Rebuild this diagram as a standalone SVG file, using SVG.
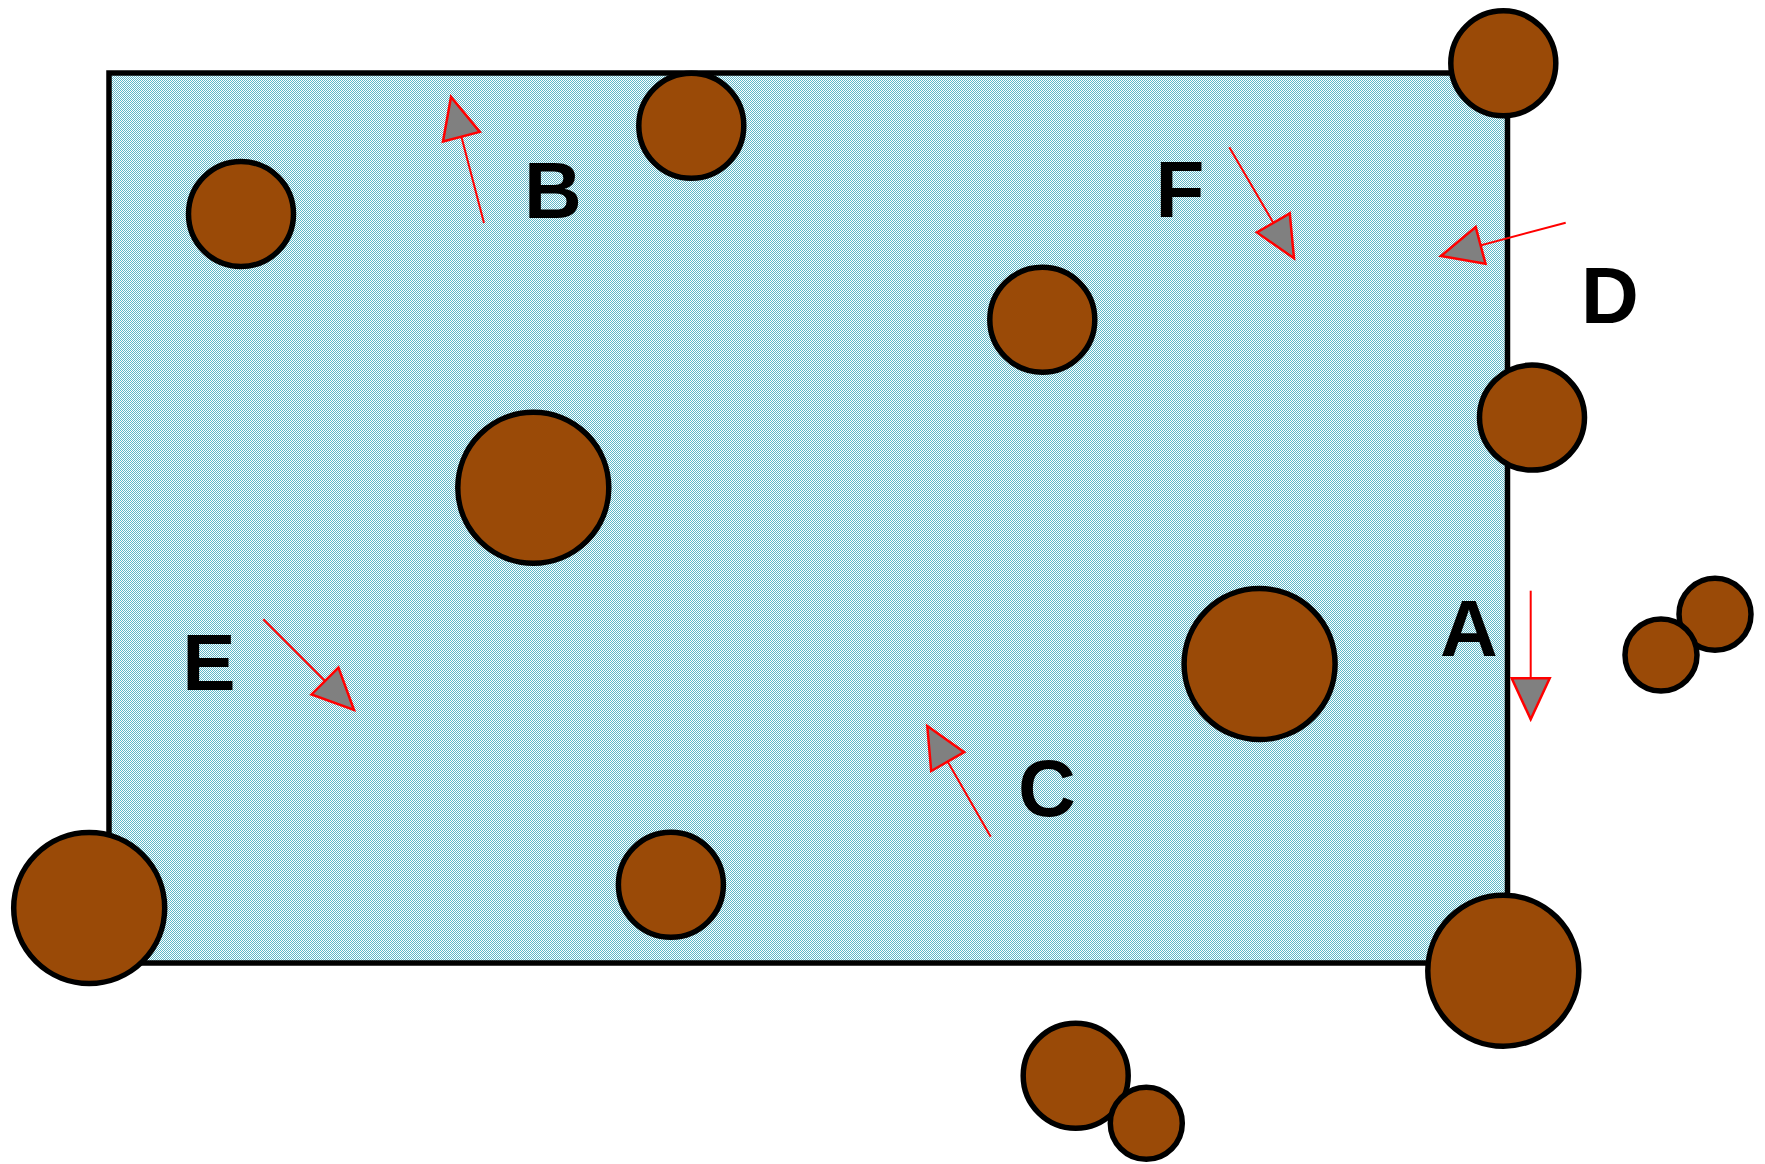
<svg xmlns="http://www.w3.org/2000/svg" width="1765" height="1164" viewBox="0 0 1765 1164">
  <defs>
    <pattern id="dots" patternUnits="userSpaceOnUse" x="0" y="0" width="2" height="2">
      <rect x="0" y="0" width="2" height="2" fill="#ffffff"/>
      <rect x="0" y="0" width="1" height="1" fill="#5fb8c8"/>
      <rect x="1" y="1" width="1" height="1" fill="#5fb8c8"/>
    </pattern>
    <marker id="head" markerUnits="userSpaceOnUse" markerWidth="50" markerHeight="50" refX="41" refY="0" orient="auto" overflow="visible">
      <path d="M0,-19 L41,0 L0,19 Z" fill="#808080" stroke="#ff0000" stroke-width="2.5" stroke-linejoin="miter"/>
    </marker>
  </defs>
  <style>
    .box { fill: url(#dots); stroke: #000000; stroke-width: 5.5; }
    .p { fill: #9a4a07; stroke: #000000; stroke-width: 5.5; }
    .arr { stroke: #ff0000; stroke-width: 2; fill: none; marker-end: url(#head); }
    .lbl { font-family: "Liberation Sans", Arial, sans-serif; font-weight: bold; font-size: 80px; fill: #000000; text-anchor: middle; }
  </style>

  <g id="box">
    <rect class="box" x="109" y="73" width="1398.5" height="890"/>
  </g>

  <g id="particles">
    <g id="p1"><circle class="p" cx="1503.3" cy="63.3" r="52.5"/></g>
    <g id="p2"><circle class="p" cx="691.3" cy="125.8" r="52.5"/></g>
    <g id="p3"><circle class="p" cx="241" cy="214" r="52.5"/></g>
    <g id="p4"><circle class="p" cx="1042.3" cy="319.7" r="52.5"/></g>
    <g id="p5"><circle class="p" cx="533.3" cy="487.7" r="75.5"/></g>
    <g id="p6"><circle class="p" cx="1532" cy="417.6" r="52.5"/></g>
    <g id="p7"><circle class="p" cx="1259.6" cy="664.1" r="75.5"/></g>
    <g id="p8"><circle class="p" cx="1715" cy="614.3" r="36"/></g>
    <g id="p9"><circle class="p" cx="1661" cy="655" r="36"/></g>
    <g id="p10"><circle class="p" cx="89.2" cy="908" r="75.5"/></g>
    <g id="p11"><circle class="p" cx="670.9" cy="884.7" r="52.5"/></g>
    <g id="p12"><circle class="p" cx="1503.3" cy="970.7" r="75.5"/></g>
    <g id="p13"><circle class="p" cx="1075.7" cy="1075.7" r="52.5"/></g>
    <g id="p14"><circle class="p" cx="1146.3" cy="1123.3" r="36"/></g>
  </g>

  <g id="connectors">
    <line class="arr" x1="1530.7" y1="590.7" x2="1530.7" y2="719.3"/>
    <line class="arr" x1="484" y1="223" x2="451" y2="97"/>
    <line class="arr" x1="990.7" y1="836.7" x2="927.3" y2="726"/>
    <line class="arr" x1="1565.7" y1="222.7" x2="1441" y2="256"/>
    <line class="arr" x1="263.3" y1="619.3" x2="354" y2="710"/>
    <line class="arr" x1="1229.3" y1="147.3" x2="1294" y2="258.3"/>
  </g>

  <g id="labels">
    <text class="lbl" x="1469" y="656">A</text>
    <text class="lbl" x="553" y="218">B</text>
    <text class="lbl" x="1047" y="816">C</text>
    <text class="lbl" x="1610" y="322.7">D</text>
    <text class="lbl" x="209" y="690">E</text>
    <text class="lbl" x="1180" y="216.7">F</text>
  </g>
</svg>
